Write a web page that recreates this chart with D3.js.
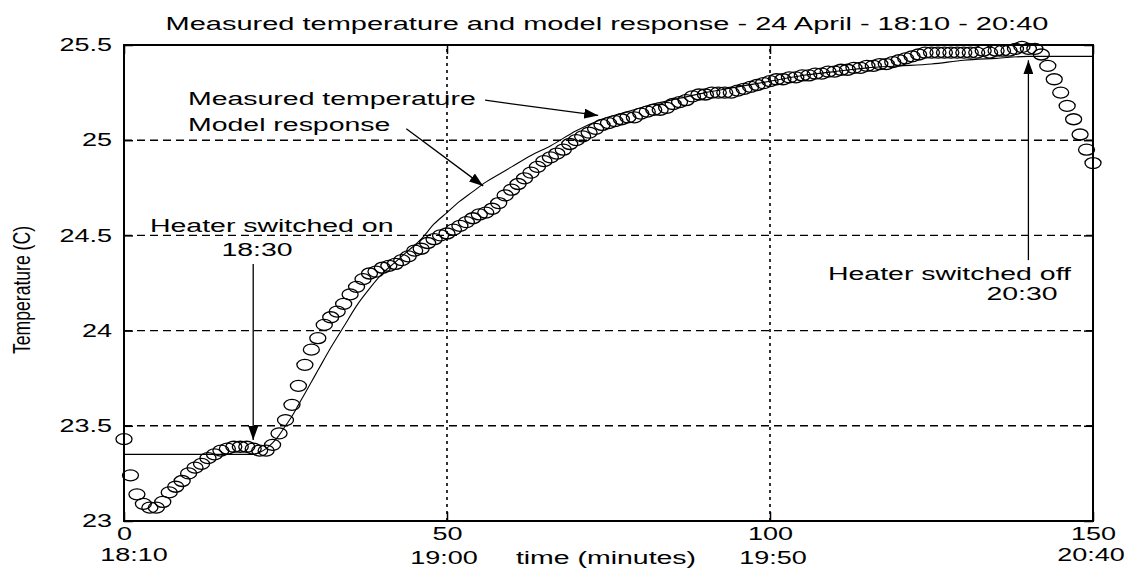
<!DOCTYPE html>
<html>
<head>
<meta charset="utf-8">
<script src="https://cdn.jsdelivr.net/npm/d3@7"></script>
<style>
  body { margin: 0; background: #fff; }
  text { font-family: "Liberation Sans", Arial, sans-serif; fill: #000; }
</style>
</head>
<body>
<svg id="chart" width="1132" height="570"></svg>
<script>
// measured temperature, one sample per minute from 18:10
const measuredTemp = [
  23.43, 23.24, 23.14, 23.09, 23.07, 23.07, 23.10, 23.15, 23.18, 23.21,
  23.25, 23.28, 23.30, 23.33, 23.35, 23.37, 23.38, 23.39, 23.39, 23.39,
  23.38, 23.37, 23.37, 23.40, 23.46, 23.53, 23.61, 23.71, 23.82, 23.90,
  23.96, 24.03, 24.07, 24.10, 24.14, 24.19, 24.23, 24.27, 24.30, 24.31,
  24.33, 24.34, 24.35, 24.37, 24.39, 24.42, 24.43, 24.46, 24.48, 24.50,
  24.51, 24.53, 24.55, 24.57, 24.59, 24.61, 24.62, 24.64, 24.67, 24.71,
  24.74, 24.77, 24.80, 24.83, 24.86, 24.89, 24.91, 24.93, 24.95, 24.98,
  25.00, 25.02, 25.04, 25.06, 25.08, 25.09, 25.10, 25.11, 25.12, 25.12,
  25.14, 25.15, 25.16, 25.16, 25.17, 25.19, 25.20, 25.21, 25.23, 25.24,
  25.24, 25.25, 25.25, 25.25, 25.25, 25.26, 25.27, 25.28, 25.29, 25.30,
  25.31, 25.32, 25.32, 25.33, 25.33, 25.34, 25.34, 25.35, 25.35, 25.36,
  25.36, 25.37, 25.37, 25.38, 25.38, 25.39, 25.39, 25.40, 25.40, 25.41,
  25.42, 25.43, 25.44, 25.45, 25.46, 25.46, 25.46, 25.46, 25.46, 25.46,
  25.46, 25.46, 25.46, 25.47, 25.46, 25.47, 25.47, 25.47, 25.48, 25.49,
  25.48, 25.48, 25.45, 25.39, 25.32, 25.25, 25.18, 25.11, 25.03, 24.95,
  24.88
];

// model response (minutes, temperature)
const modelTime = [0, 20, 21, 22, 23, 24, 25, 26, 27, 28, 29, 30, 32, 34, 36, 38, 40,
  42, 44, 46, 48, 50, 52, 54, 56, 58, 60, 63, 66, 70, 74, 78, 82, 86, 90, 95,
  100, 105, 110, 115, 120, 125, 130, 135, 140, 145, 150];
const modelTemp = [23.35, 23.35, 23.36, 23.38, 23.41, 23.45, 23.50, 23.55, 23.61,
  23.67, 23.73, 23.79, 23.91, 24.02, 24.13, 24.22, 24.30, 24.36, 24.42, 24.48,
  24.56, 24.62, 24.68, 24.73, 24.78, 24.82, 24.86, 24.92, 24.97, 25.05, 25.11,
  25.15, 25.19, 25.22, 25.25, 25.28, 25.31, 25.34, 25.36, 25.38, 25.39, 25.40,
  25.42, 25.43, 25.44, 25.44, 25.44];

const xTicks = [0, 50, 100, 150];
const clockLabels = ["18:10", "19:00", "19:50", "20:40"];
const yTicks = [23, 23.5, 24, 24.5, 25, 25.5];
const yGrid = [23.5, 24, 24.5, 25];
const xGrid = [50, 100];

// arrow annotations in data units [minutes, degC]
const arrowFrom = [[55.9, 25.21], [43.7, 25.06], [20, 24.35], [140, 24.37]];
const arrowTo = [[73.4, 25.13], [55.6, 24.76], [20, 23.425], [140, 25.42]];

const svg = d3.select("#chart");
const x = d3.scaleLinear().domain([0, 150]).range([124, 1093]);
const y = d3.scaleLinear().domain([23, 25.5]).range([521, 45]);

// stretch text horizontally like the original picture
function stretch(sel, k) {
  sel.each(function() {
    const w = this.getComputedTextLength();
    d3.select(this).attr("textLength", w * k).attr("lengthAdjust", "spacingAndGlyphs");
  });
}

const defs = svg.append("defs");
defs.append("marker")
  .attr("id", "head")
  .attr("viewBox", "0 0 14 10")
  .attr("refX", 14).attr("refY", 5)
  .attr("markerWidth", 14).attr("markerHeight", 10)
  .attr("markerUnits", "userSpaceOnUse")
  .attr("orient", "auto")
  .append("path").attr("d", "M0,0L14,5L0,10Z").attr("fill", "#000");

// grid
svg.append("g").selectAll("line").data(yGrid).join("line")
  .attr("x1", x(0)).attr("x2", x(150))
  .attr("y1", d => y(d)).attr("y2", d => y(d))
  .attr("stroke", "#000").attr("stroke-width", 1.4)
  .attr("stroke-dasharray", "8,5");
svg.append("g").selectAll("line").data(xGrid).join("line")
  .attr("x1", d => x(d)).attr("x2", d => x(d))
  .attr("y1", y(23)).attr("y2", y(25.5))
  .attr("stroke", "#000").attr("stroke-width", 1.6)
  .attr("stroke-dasharray", "3,4");

// axes
const fmt = d3.format("");
const gl = svg.append("g").attr("transform", `translate(${x(0)},0)`)
  .call(d3.axisLeft(y).tickValues(yTicks).tickSize(-9).tickPadding(12).tickFormat(fmt));
const gr = svg.append("g").attr("transform", `translate(${x(150)},0)`)
  .call(d3.axisRight(y).tickValues(yTicks).tickSize(-9).tickFormat(""));
const gb = svg.append("g").attr("transform", `translate(0,${y(23)})`)
  .call(d3.axisBottom(x).tickValues(xTicks).tickSize(-9).tickPadding(8).tickFormat(fmt));
const gt = svg.append("g").attr("transform", `translate(0,${y(25.5)})`)
  .call(d3.axisTop(x).tickValues(xTicks).tickSize(-9).tickFormat(""));

[gl, gr, gb, gt].forEach(g => {
  g.select(".domain").remove();
  g.selectAll(".tick line").attr("stroke", "#000").attr("stroke-width", 1.5);
  g.selectAll("text").attr("font-size", 18).attr("font-family", null).attr("fill", "#000");
});
gl.selectAll("text").attr("x", -12).call(stretch, 1.5);
gb.selectAll("text").attr("y", 19).attr("dy", null).call(stretch, 1.5);

// clock time labels under tick numbers
const clockShift = [10, -3, 3, -2];
const clockDrop = [561, 564, 564, 561];
svg.append("g").selectAll("text").data(clockLabels).join("text")
  .attr("x", (d, i) => x(xTicks[i]) + clockShift[i])
  .attr("y", (d, i) => clockDrop[i])
  .attr("text-anchor", "middle")
  .attr("font-size", 18)
  .text(d => d)
  .call(stretch, 1.5);

// plot box
svg.append("rect")
  .attr("x", x(0)).attr("y", y(25.5))
  .attr("width", x(150) - x(0)).attr("height", y(23) - y(25.5))
  .attr("fill", "none").attr("stroke", "#000").attr("stroke-width", 2);

// model response
const line = d3.line().x(d => x(d[0])).y(d => y(d[1])).curve(d3.curveMonotoneX);
svg.append("path")
  .datum(modelTime.map((t, i) => [t, modelTemp[i]]))
  .attr("d", line)
  .attr("fill", "none").attr("stroke", "#000").attr("stroke-width", 1.1);

// measured temperature
svg.append("g").selectAll("ellipse").data(measuredTemp).join("ellipse")
  .attr("cx", (d, i) => x(i))
  .attr("cy", d => y(d))
  .attr("rx", 8).attr("ry", 5.5)
  .attr("fill", "none").attr("stroke", "#000").attr("stroke-width", 1.3);

// arrows
svg.append("g").selectAll("line").data(arrowFrom).join("line")
  .attr("x1", d => x(d[0])).attr("y1", d => y(d[1]))
  .attr("x2", (d, i) => x(arrowTo[i][0])).attr("y2", (d, i) => y(arrowTo[i][1]))
  .attr("stroke", "#000").attr("stroke-width", 1.3)
  .attr("marker-end", "url(#head)");

// annotation texts
const notes = [
  { t: "Measured temperature", x: 188, y: 105, a: "start" },
  { t: "Model response", x: 188, y: 131, a: "start" },
  { t: "Heater switched on", x: 150, y: 232, a: "start" },
  { t: "18:30", x: 257, y: 256, a: "middle" },
  { t: "Heater switched off", x: 828, y: 280, a: "start" },
  { t: "20:30", x: 1022, y: 300, a: "middle" }
];
svg.append("g").selectAll("text").data(notes).join("text")
  .attr("x", d => d.x).attr("y", d => d.y)
  .attr("text-anchor", d => d.a)
  .attr("font-size", 18)
  .text(d => d.t)
  .call(stretch, 1.58);

// title
svg.append("text")
  .attr("x", 607).attr("y", 30)
  .attr("text-anchor", "middle")
  .attr("font-size", 18)
  .text("Measured temperature and model response - 24 April - 18:10 - 20:40")
  .call(stretch, 1.61);

// axis labels
svg.append("text")
  .attr("x", 606).attr("y", 564)
  .attr("text-anchor", "middle")
  .attr("font-size", 18)
  .text("time (minutes)")
  .call(stretch, 1.58);

svg.append("text")
  .attr("transform", "translate(30,290) rotate(-90)")
  .attr("text-anchor", "middle")
  .attr("font-size", 24)
  .attr("textLength", 128)
  .attr("lengthAdjust", "spacingAndGlyphs")
  .text("Temperature (C)");
</script>
</body>
</html>
